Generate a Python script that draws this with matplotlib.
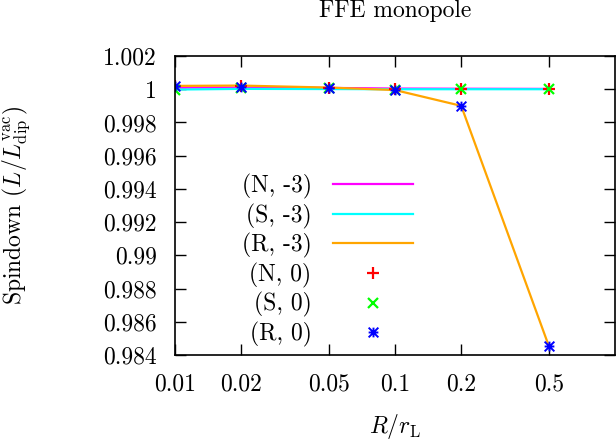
import matplotlib
matplotlib.use("Agg")
import matplotlib.pyplot as plt
from matplotlib.path import Path
from matplotlib.ticker import FixedLocator, FuncFormatter, NullLocator

plt.rcParams['font.family'] = 'cmr10'
plt.rcParams['mathtext.fontset'] = 'cm'
plt.rcParams['axes.unicode_minus'] = False
plt.rcParams['axes.formatter.use_mathtext'] = True

# === Данные ===
r_over_rl = [0.01, 0.02, 0.05, 0.1, 0.2, 0.5]

n_m3 = [1.00010, 1.00010, 1.00008, 1.00004, 1.00003, 1.00002]
s_m3 = [0.99998, 1.00002, 1.00001, 1.00000, 1.00000, 1.00000]
r_m3 = [1.00020, 1.00022, 1.00010, 0.99995, 0.99900, 0.98455]

n_0 = [1.00020, 1.00020, 1.00010, 1.00000, 1.00002, 1.00001]
s_0 = [0.99997, 1.00010, 1.00008, 0.99998, 1.00000, 1.00000]
r_0 = [1.00020, 1.00015, 1.00010, 0.99993, 0.99901, 0.98456]

x_ticks = [0.01, 0.02, 0.05, 0.1, 0.2, 0.5]
y_ticks = [0.984, 0.986, 0.988, 0.99, 0.992, 0.994, 0.996, 0.998, 1.0, 1.002]

FS = 17

# звёздочка как в gnuplot: "+" и "x" вместе
star = Path([(-1, 0), (1, 0), (0, -1), (0, 1),
             (-1, -1), (1, 1), (-1, 1), (1, -1)],
            [Path.MOVETO, Path.LINETO] * 4)

# === График ===
fig = plt.figure(figsize=(6.16, 4.45), dpi=100)
ax = fig.add_axes([175 / 616, 1 - 355 / 445, 440 / 616, 299 / 445])

ax.plot(r_over_rl, n_m3, '-', color='#ff00ff', linewidth=1.6, label='(N, -3)')
ax.plot(r_over_rl, s_m3, '-', color='#00ffff', linewidth=1.6, label='(S, -3)')
ax.plot(r_over_rl, r_m3, '-', color='#ffa500', linewidth=1.6, label='(R, -3)')
ax.plot(r_over_rl, n_0, '+', color='#ff0000', markersize=8, markeredgewidth=1.6,
        linestyle='none', label='(N, 0)')
ax.plot(r_over_rl, s_0, 'x', color='#00ff00', markersize=7, markeredgewidth=1.6,
        linestyle='none', label='(S, 0)')
ax.plot(r_over_rl, r_0, marker=star, color='#0000ff', markersize=7,
        markeredgewidth=1.4, linestyle='none', label='(R, 0)')

ax.set_xscale('log')
ax.set_xlim(0.01, 1.0)
ax.set_ylim(0.984, 1.002)

fmt = FuncFormatter(lambda v, pos: '%g' % v)
ax.xaxis.set_major_locator(FixedLocator(x_ticks))
ax.xaxis.set_minor_locator(NullLocator())
ax.xaxis.set_major_formatter(fmt)
ax.yaxis.set_major_locator(FixedLocator(y_ticks))
ax.yaxis.set_major_formatter(fmt)

ax.tick_params(which='both', direction='in', top=True, right=True,
               length=8, width=1, labelsize=FS, pad=13)
for side in ax.spines.values():
    side.set_linewidth(1.2)

ax.set_title('FFE monopole', fontsize=FS, pad=28)
ax.set_xlabel(r'$R/r_{\rm L}$', fontsize=FS)
ax.xaxis.set_label_coords(0.5, -0.19)
ax.set_ylabel(r'Spindown $(L/L_{\rm dip}^{\rm vac})$', fontsize=FS)
ax.yaxis.set_label_coords(-0.325, 0.5)

leg = ax.legend(loc='center right', bbox_to_anchor=(0.541, 0.316),
                frameon=False, markerfirst=False, numpoints=1, fontsize=FS,
                handlelength=3.4, handletextpad=0.9, labelspacing=0.19,
                borderpad=0, borderaxespad=0)

plt.savefig('out.png', dpi=100)
